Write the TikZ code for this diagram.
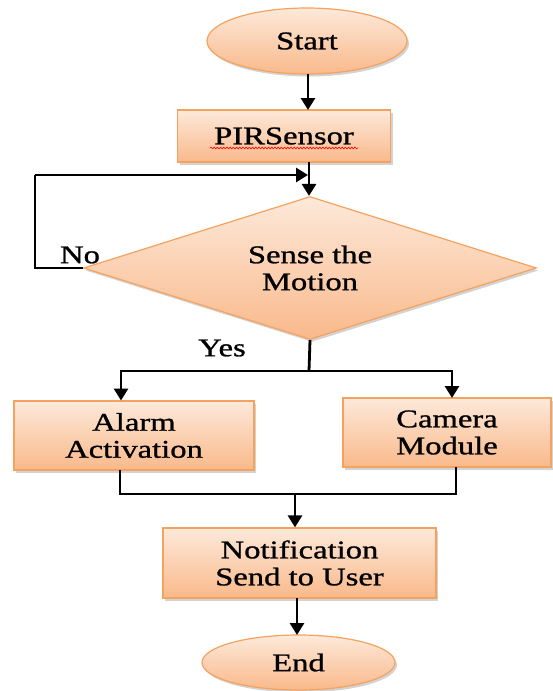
\documentclass[tikz,border=0pt]{standalone}
\usepackage{fontspec}
\setmainfont{Liberation Serif}[FakeStretch=1.28,FakeBold=1]
\usetikzlibrary{shapes.geometric,arrows.meta,shadows,decorations.pathmorphing}
\definecolor{peachtop}{HTML}{FDE9DA}
\definecolor{peachbot}{HTML}{F9B98B}
\definecolor{peachline}{HTML}{F5A25E}
\begin{document}
\begin{tikzpicture}[x=1pt,y=-1pt,
  font=\fontsize{25.5pt}{27pt}\selectfont,
  shape base/.style={draw=peachline, line width=1.2pt, top color=peachtop, bottom color=peachbot,
    drop shadow={shadow xshift=2pt, shadow yshift=-2.5pt, opacity=0.35},
    inner sep=0pt, align=center, text=black},
  terminal/.style={shape base, ellipse},
  procbox/.style={shape base, rectangle},
  decision/.style={shape base, diamond, aspect=3.17},
  flow/.style={line width=2.8pt, draw=black, -{Triangle[width=14pt,length=12pt]}},
  link/.style={line width=2.8pt, draw=black},
  lbl/.style={text=black, inner sep=0pt}]
\useasboundingbox (0,0) rectangle (552,691);

% shapes
\node[terminal, minimum width=200pt, minimum height=66pt] (start) at (307,41) {Start};
\node[procbox, minimum width=213pt, minimum height=52pt] (pir) at (284,136) {PIRSensor};
\node[decision, minimum width=453pt, minimum height=143pt] (sense) at (310,268) {Sense the\\Motion};
\node[procbox, minimum width=240pt, minimum height=69pt] (alarm) at (134,435.5) {Alarm\\Activation};
\node[procbox, minimum width=208pt, minimum height=69pt] (camera) at (447,432.5) {Camera\\Module};
\node[procbox, minimum width=273pt, minimum height=70pt] (notify) at (299.5,563) {Notification\\Send to User};
\node[terminal, minimum width=193pt, minimum height=55pt] (end) at (298.5,662.5) {End};

% spell-check underline under PIRSensor
\draw[red, line width=0.6pt, decorate, decoration={snake, amplitude=0.9pt, segment length=3.2pt}]
  ([xshift=-74pt,yshift=-12pt]pir.center) -- ([xshift=74pt,yshift=-12pt]pir.center);

% labels
\node[lbl] (no) at (80,255) {No};
\node[lbl] (yes) at (222,348) {Yes};

% junction points
\coordinate (loopin) at (309,175);
\coordinate (loopl) at (35,175);
\coordinate (loopb) at (35,268);
\coordinate (split) at (309,371);
\coordinate (merge) at (295,494);

% connectors
\draw[flow] (308,74) -- (308,110);
\draw[link] (309,162) -- (loopin);
\draw[flow] (loopin) -- (loopin |- sense.north);
\draw[link] (sense.west) -- (loopb) -- (loopl);
\draw[flow] (loopl) -- ([xshift=-1pt]loopin);
\draw[link] (sense.south) -- (split);
\draw[flow] (split) -| (121,400.5);
\draw[flow] (split) -| (452,398);
\draw[link] (120,470) |- (merge);
\draw[link] (456,467) |- (merge);
\draw[flow] (merge) -- (merge |- notify.north);
\draw[flow] (297,598) -- (297,635);
\end{tikzpicture}
\end{document}
